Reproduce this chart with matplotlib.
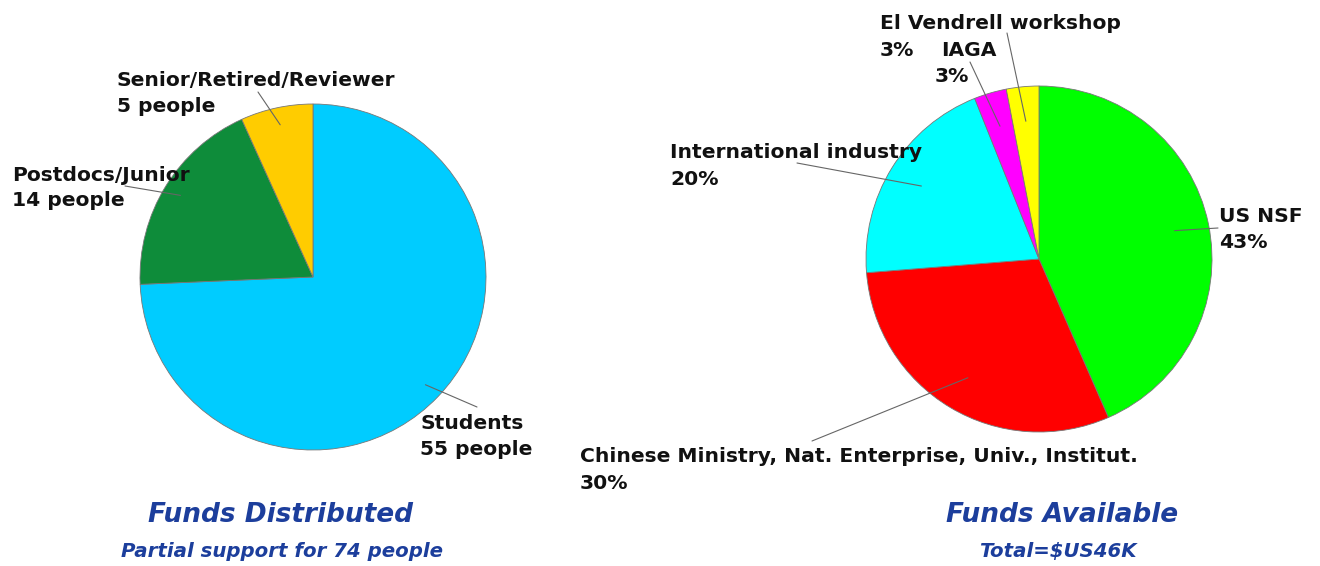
import matplotlib
matplotlib.use("Agg")
import matplotlib.pyplot as plt
import numpy as np

plt.rcParams['font.family'] = ['DejaVu Sans']

# ---- data ----
dist_labels = ["Students", "Postdocs/Junior", "Senior/Retired/Reviewer"]
dist_values = [55, 14, 5]
dist_colors = ["#00CCFF", "#0E8C3A", "#FFCC00"]

avail_labels = ["US NSF", "Chinese Ministry, Nat. Enterprise, Univ., Institut.",
                "International industry", "IAGA", "El Vendrell workshop"]
avail_values = [43, 30, 20, 3, 3]
avail_colors = ["#00FF00", "#FF0000", "#00FFFF", "#FF00FF", "#FFFF00"]

W, H = 1320, 566
fig = plt.figure(figsize=(W / 100, H / 100), dpi=100)
fig.patch.set_facecolor("white")
LFS = 14.6


def fx(x):
    return x / W


def fy(y):
    return 1 - y / H


def pie_axes(cx, cy, r):
    ax = fig.add_axes([fx(cx - r), fy(cy + r), 2 * r / W, 2 * r / H])
    ax.set_xlim(-1, 1)
    ax.set_ylim(-1, 1)
    ax.axis("off")
    return ax


def draw(ax, values, colors):
    wedges, _ = ax.pie(values, colors=colors, startangle=90, counterclock=False,
                       radius=1, center=(0, 0),
                       wedgeprops=dict(edgecolor="#777777", linewidth=0.6))
    ax.set_xlim(-1, 1)
    ax.set_ylim(-1, 1)
    return wedges


def label(ax, wedge, rfrac, lines, lx, ly):
    ang = np.deg2rad((wedge.theta1 + wedge.theta2) / 2)
    px, py = rfrac * np.cos(ang), rfrac * np.sin(ang)
    ax.annotate("", xy=(px, py), xycoords="data",
                xytext=(fx(lx), fy(ly)), textcoords="figure fraction",
                arrowprops=dict(arrowstyle="-", color="#666666", lw=0.8,
                                shrinkA=0, shrinkB=0),
                annotation_clip=False)
    for text, tx, ty in lines:
        fig.text(fx(tx), fy(ty - 1), text, ha="left", va="baseline", fontsize=LFS,
                 fontweight="bold", color="#111111")


# left pie
axL = pie_axes(313, 277, 173)
wL = draw(axL, dist_values, dist_colors)
label(axL, wL[2], 0.9, [(dist_labels[2], 117, 87), (f"{dist_values[2]} people", 117, 113)], 258, 92)
label(axL, wL[1], 0.9, [(dist_labels[1], 12, 182), (f"{dist_values[1]} people", 12, 207)], 125, 186)
label(axL, wL[0], 0.9, [(dist_labels[0], 420, 430), (f"{dist_values[0]} people", 420, 456)], 477, 407)

# right pie
axR = pie_axes(1039, 259, 173)
wR = draw(axR, avail_values, avail_colors)
label(axR, wR[0], 0.8, [(avail_labels[0], 1219, 223), (f"{avail_values[0]}%", 1219, 249)], 1218, 228)
label(axR, wR[1], 0.8, [(avail_labels[1], 580, 463), (f"{avail_values[1]}%", 580, 490)], 812, 441)
label(axR, wR[2], 0.8, [(avail_labels[2], 670, 159), (f"{avail_values[2]}%", 670, 186)], 797, 163)
label(axR, wR[3], 0.8, [(avail_labels[3], 941, 57), (f"{avail_values[3]}%", 935, 83)], 970, 62)
label(axR, wR[4], 0.8, [(avail_labels[4], 880, 30), (f"{avail_values[4]}%", 880, 57)], 1007, 33)

# titles
blue = "#1C3E9C"
fig.text(fx(281), fy(522), "Funds Distributed", ha="center", va="baseline",
         fontsize=19, fontweight="bold", fontstyle="italic", color=blue)
fig.text(fx(282), fy(557), f"Partial support for {sum(dist_values)} people", ha="center",
         va="baseline", fontsize=14.2, fontweight="bold", fontstyle="italic", color=blue)
fig.text(fx(1062), fy(522), "Funds Available", ha="center", va="baseline",
         fontsize=19, fontweight="bold", fontstyle="italic", color=blue)
fig.text(fx(1058), fy(557), "Total=$US46K", ha="center", va="baseline",
         fontsize=14.2, fontweight="bold", fontstyle="italic", color=blue)

fig.savefig("out.png", dpi=100, facecolor="white")
